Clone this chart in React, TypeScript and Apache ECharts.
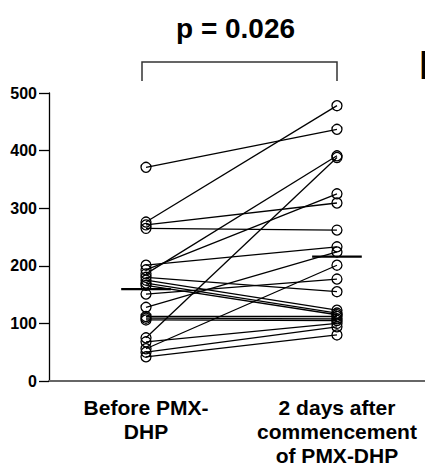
import { useEffect, useRef } from 'react';
import * as echarts from 'echarts';

const categories = ['Before PMX-\nDHP', '2 days after\ncommencement\nof PMX-DHP'];
const beforeValues = [276, 371, 186, 75, 193, 271, 265, 201, 128, 56, 151, 180, 175, 170, 166, 112, 109, 106, 68, 50, 42];
const afterValues = [478, 437, 391, 388, 325, 309, 262, 233, 224, 201, 177, 155, 123, 118, 115, 112, 108, 105, 100, 94, 80];
const yTicks = [0, 100, 200, 300, 400, 500];
const pLabel = 'p = 0.026';
const panelLetter = 'B';

const FONT = '"Liberation Sans", Arial, Helvetica, sans-serif';

function mean(a: number[]) {
  return a.reduce((s, v) => s + v, 0) / a.length;
}

export default function App() {
  const ref = useRef<HTMLDivElement>(null);
  useEffect(() => {
    if (!ref.current) return;
    const chart = echarts.init(ref.current, null, { renderer: 'svg' });
    const pairSeries = beforeValues.map((b, i) => ({
      type: 'line',
      data: [[0, b], [1, afterValues[i]]],
      symbol: 'circle',
      symbolSize: 10,
      itemStyle: { color: 'transparent', borderColor: '#000', borderWidth: 1.3 },
      lineStyle: { color: '#000', width: 1.3 },
      silent: true,
      z: 3,
    }));
    const means = [mean(beforeValues), mean(afterValues)];
    const meanSeries = means.map((m, i) => ({
      type: 'line',
      data: [[i - 0.13, m], [i + 0.13, m]],
      symbol: 'none',
      lineStyle: { color: '#000', width: 2.2 },
      silent: true,
      z: 4,
    }));
    chart.setOption({
      animation: false,
      backgroundColor: '#fff',
      textStyle: { fontFamily: FONT },
      title: {
        text: pLabel,
        left: 171,
        top: 9,
        textStyle: { fontFamily: FONT, fontSize: 28, fontWeight: 'bold', color: '#000' },
      },
      grid: { left: 49, right: 0, top: 93, bottom: 90, containLabel: false },
      xAxis: {
        type: 'value',
        min: -0.508,
        max: 1.461,
        splitLine: { show: false },
        axisTick: { show: false },
        axisLine: { show: true, onZero: false, lineStyle: { color: '#666', width: 2 } },
        axisLabel: {
          customValues: [0, 1],
          formatter: (v: number) => categories[Math.round(v)] ?? '',
          fontFamily: FONT,
          fontSize: 21,
          fontWeight: 'bold',
          color: '#000',
          lineHeight: 24,
          margin: 14,
          align: 'center',
        },
      },
      yAxis: {
        type: 'value',
        min: yTicks[0],
        max: yTicks[yTicks.length - 1],
        interval: yTicks[1] - yTicks[0],
        splitLine: { show: false },
        axisLine: { show: true, onZero: false, lineStyle: { color: '#000', width: 1.3 } },
        axisTick: { show: true, length: 10, lineStyle: { color: '#000', width: 1.3 } },
        axisLabel: { fontFamily: FONT, fontSize: 16, fontWeight: 'bold', color: '#000', margin: 12 },
      },
      graphic: [
        {
          type: 'polyline',
          shape: { points: [[142, 81], [142, 62], [337, 62], [337, 81]] },
          style: { stroke: '#333', lineWidth: 1.5, fill: 'none' },
        },
        {
          type: 'text',
          x: 419,
          y: 45,
          style: { text: panelLetter, fontFamily: FONT, fontSize: 40, fontWeight: 'bold', fill: '#000' },
        },
      ],
      series: [...pairSeries, ...meanSeries],
    });
    return () => chart.dispose();
  }, []);
  return <div ref={ref} style={{ position: 'fixed', left: 0, top: 0, width: 425, height: 471 }} />;
}
